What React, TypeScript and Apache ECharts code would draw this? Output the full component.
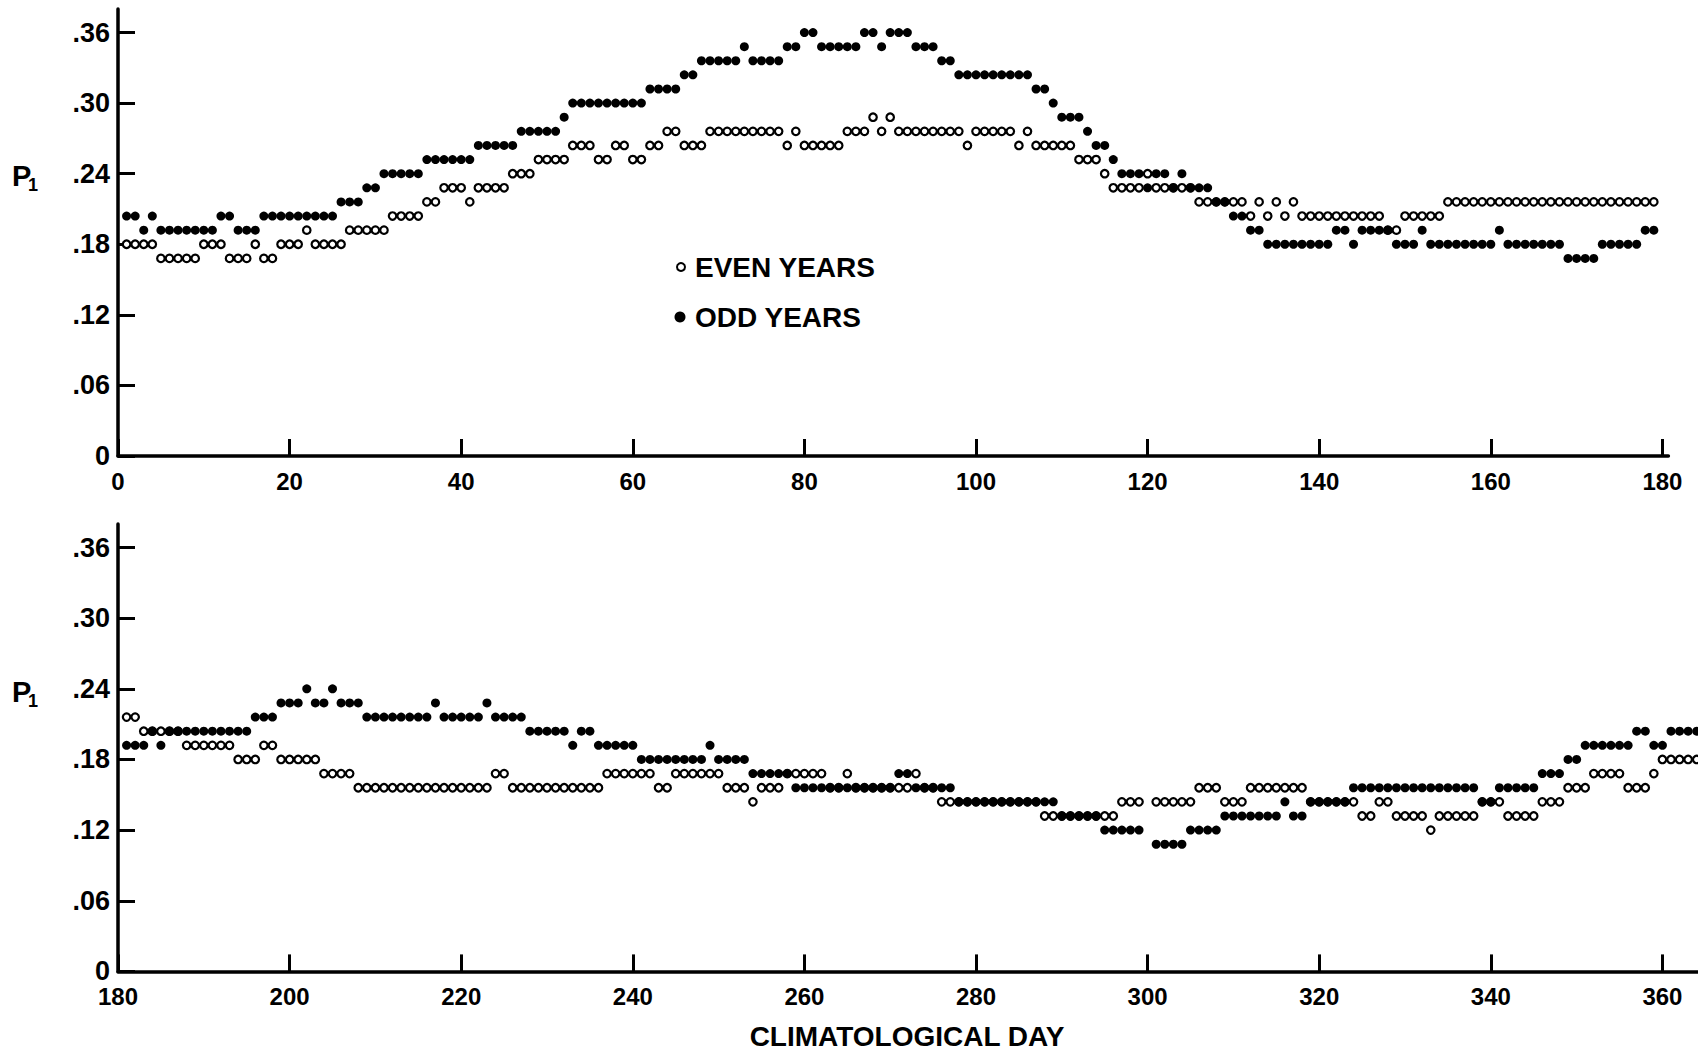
import React, { useEffect, useRef } from "react";
import * as echarts from "echarts";

// ---- Data ----
// Top panel: climatological days 1..179
const TOP_FIRST_DAY = 1;
const topEven = [
  0.18, 0.18, 0.18, 0.18, 0.168, 0.168, 0.168, 0.168, 0.168, 0.18,
  0.18, 0.18, 0.168, 0.168, 0.168, 0.18, 0.168, 0.168, 0.18, 0.18,
  0.18, 0.192, 0.18, 0.18, 0.18, 0.18, 0.192, 0.192, 0.192, 0.192,
  0.192, 0.204, 0.204, 0.204, 0.204, 0.216, 0.216, 0.228, 0.228, 0.228,
  0.216, 0.228, 0.228, 0.228, 0.228, 0.24, 0.24, 0.24, 0.252, 0.252,
  0.252, 0.252, 0.264, 0.264, 0.264, 0.252, 0.252, 0.264, 0.264, 0.252,
  0.252, 0.264, 0.264, 0.276, 0.276, 0.264, 0.264, 0.264, 0.276, 0.276,
  0.276, 0.276, 0.276, 0.276, 0.276, 0.276, 0.276, 0.264, 0.276, 0.264,
  0.264, 0.264, 0.264, 0.264, 0.276, 0.276, 0.276, 0.288, 0.276, 0.288,
  0.276, 0.276, 0.276, 0.276, 0.276, 0.276, 0.276, 0.276, 0.264, 0.276,
  0.276, 0.276, 0.276, 0.276, 0.264, 0.276, 0.264, 0.264, 0.264, 0.264,
  0.264, 0.252, 0.252, 0.252, 0.24, 0.228, 0.228, 0.228, 0.228, 0.24,
  0.228, 0.228, 0.228, 0.228, 0.228, 0.216, 0.216, 0.216, 0.216, 0.216,
  0.216, 0.204, 0.216, 0.204, 0.216, 0.204, 0.216, 0.204, 0.204, 0.204,
  0.204, 0.204, 0.204, 0.204, 0.204, 0.204, 0.204, 0.192, 0.192, 0.204,
  0.204, 0.204, 0.204, 0.204, 0.216, 0.216, 0.216, 0.216, 0.216, 0.216,
  0.216, 0.216, 0.216, 0.216, 0.216, 0.216, 0.216, 0.216, 0.216, 0.216,
  0.216, 0.216, 0.216, 0.216, 0.216, 0.216, 0.216, 0.216, 0.216,
];
const topOdd = [
  0.204, 0.204, 0.192, 0.204, 0.192, 0.192, 0.192, 0.192, 0.192, 0.192,
  0.192, 0.204, 0.204, 0.192, 0.192, 0.192, 0.204, 0.204, 0.204, 0.204,
  0.204, 0.204, 0.204, 0.204, 0.204, 0.216, 0.216, 0.216, 0.228, 0.228,
  0.24, 0.24, 0.24, 0.24, 0.24, 0.252, 0.252, 0.252, 0.252, 0.252,
  0.252, 0.264, 0.264, 0.264, 0.264, 0.264, 0.276, 0.276, 0.276, 0.276,
  0.276, 0.288, 0.3, 0.3, 0.3, 0.3, 0.3, 0.3, 0.3, 0.3,
  0.3, 0.312, 0.312, 0.312, 0.312, 0.324, 0.324, 0.336, 0.336, 0.336,
  0.336, 0.336, 0.348, 0.336, 0.336, 0.336, 0.336, 0.348, 0.348, 0.36,
  0.36, 0.348, 0.348, 0.348, 0.348, 0.348, 0.36, 0.36, 0.348, 0.36,
  0.36, 0.36, 0.348, 0.348, 0.348, 0.336, 0.336, 0.324, 0.324, 0.324,
  0.324, 0.324, 0.324, 0.324, 0.324, 0.324, 0.312, 0.312, 0.3, 0.288,
  0.288, 0.288, 0.276, 0.264, 0.264, 0.252, 0.24, 0.24, 0.24, 0.228,
  0.24, 0.24, 0.228, 0.24, 0.228, 0.228, 0.228, 0.216, 0.216, 0.204,
  0.204, 0.192, 0.192, 0.18, 0.18, 0.18, 0.18, 0.18, 0.18, 0.18,
  0.18, 0.192, 0.192, 0.18, 0.192, 0.192, 0.192, 0.192, 0.18, 0.18,
  0.18, 0.192, 0.18, 0.18, 0.18, 0.18, 0.18, 0.18, 0.18, 0.18,
  0.192, 0.18, 0.18, 0.18, 0.18, 0.18, 0.18, 0.18, 0.168, 0.168,
  0.168, 0.168, 0.18, 0.18, 0.18, 0.18, 0.18, 0.192, 0.192,
];

// Bottom panel: climatological days 181..364 (null = no dot visible)
const BOTTOM_FIRST_DAY = 181;
const bottomEven = [
  0.216, 0.216, 0.204, 0.204, 0.204, 0.204, 0.204, 0.192, 0.192, 0.192,
  0.192, 0.192, 0.192, 0.18, 0.18, 0.18, 0.192, 0.192, 0.18, 0.18,
  0.18, 0.18, 0.18, 0.168, 0.168, 0.168, 0.168, 0.156, 0.156, 0.156,
  0.156, 0.156, 0.156, 0.156, 0.156, 0.156, 0.156, 0.156, 0.156, 0.156,
  0.156, 0.156, 0.156, 0.168, 0.168, 0.156, 0.156, 0.156, 0.156, 0.156,
  0.156, 0.156, 0.156, 0.156, 0.156, 0.156, 0.168, 0.168, 0.168, 0.168,
  0.168, 0.168, 0.156, 0.156, 0.168, 0.168, 0.168, 0.168, 0.168, 0.168,
  0.156, 0.156, 0.156, 0.144, 0.156, 0.156, 0.156, 0.168, 0.168, 0.168,
  0.168, 0.168, 0.156, 0.156, 0.168, 0.156, 0.156, 0.156, 0.156, 0.156,
  0.156, 0.156, 0.168, 0.156, 0.156, 0.144, 0.144, 0.144, 0.144, 0.144,
  0.144, 0.144, 0.144, 0.144, 0.144, 0.144, 0.144, 0.132, 0.132, 0.132,
  0.132, 0.132, 0.132, 0.132, 0.132, 0.132, 0.144, 0.144, 0.144, null,
  0.144, 0.144, 0.144, 0.144, 0.144, 0.156, 0.156, 0.156, 0.144, 0.144,
  0.144, 0.156, 0.156, 0.156, 0.156, 0.156, 0.156, 0.156, 0.144, 0.144,
  0.144, 0.144, 0.144, 0.144, 0.132, 0.132, 0.144, 0.144, 0.132, 0.132,
  0.132, 0.132, 0.12, 0.132, 0.132, 0.132, 0.132, 0.132, 0.144, 0.144,
  0.144, 0.132, 0.132, 0.132, 0.132, 0.144, 0.144, 0.144, 0.156, 0.156,
  0.156, 0.168, 0.168, 0.168, 0.168, 0.156, 0.156, 0.156, 0.168, 0.18,
  0.18, 0.18, 0.18, 0.18,
];
const bottomOdd = [
  0.192, 0.192, 0.192, 0.204, 0.192, 0.204, 0.204, 0.204, 0.204, 0.204,
  0.204, 0.204, 0.204, 0.204, 0.204, 0.216, 0.216, 0.216, 0.228, 0.228,
  0.228, 0.24, 0.228, 0.228, 0.24, 0.228, 0.228, 0.228, 0.216, 0.216,
  0.216, 0.216, 0.216, 0.216, 0.216, 0.216, 0.228, 0.216, 0.216, 0.216,
  0.216, 0.216, 0.228, 0.216, 0.216, 0.216, 0.216, 0.204, 0.204, 0.204,
  0.204, 0.204, 0.192, 0.204, 0.204, 0.192, 0.192, 0.192, 0.192, 0.192,
  0.18, 0.18, 0.18, 0.18, 0.18, 0.18, 0.18, 0.18, 0.192, 0.18,
  0.18, 0.18, 0.18, 0.168, 0.168, 0.168, 0.168, 0.168, 0.156, 0.156,
  0.156, 0.156, 0.156, 0.156, 0.156, 0.156, 0.156, 0.156, 0.156, 0.156,
  0.168, 0.168, 0.156, 0.156, 0.156, 0.156, 0.156, 0.144, 0.144, 0.144,
  0.144, 0.144, 0.144, 0.144, 0.144, 0.144, 0.144, 0.144, 0.144, 0.132,
  0.132, 0.132, 0.132, 0.132, 0.12, 0.12, 0.12, 0.12, 0.12, null,
  0.108, 0.108, 0.108, 0.108, 0.12, 0.12, 0.12, 0.12, 0.132, 0.132,
  0.132, 0.132, 0.132, 0.132, 0.132, 0.144, 0.132, 0.132, 0.144, 0.144,
  0.144, 0.144, 0.144, 0.156, 0.156, 0.156, 0.156, 0.156, 0.156, 0.156,
  0.156, 0.156, 0.156, 0.156, 0.156, 0.156, 0.156, 0.156, 0.144, 0.144,
  0.156, 0.156, 0.156, 0.156, 0.156, 0.168, 0.168, 0.168, 0.18, 0.18,
  0.192, 0.192, 0.192, 0.192, 0.192, 0.192, 0.204, 0.204, 0.192, 0.192,
  0.204, 0.204, 0.204, 0.204,
];

const topXTicks = [0, 20, 40, 60, 80, 100, 120, 140, 160, 180];
const bottomXTicks = [180, 200, 220, 240, 260, 280, 300, 320, 340, 360];
const yTicks = [0, 0.06, 0.12, 0.18, 0.24, 0.3, 0.36];

const FONT = "'Liberation Sans', Arial, 'DejaVu Sans', sans-serif";

function toPoints(values: (number | null)[], firstDay: number) {
  const pts: [number, number][] = [];
  values.forEach((v, i) => {
    if (v !== null) pts.push([firstDay + i, v]);
  });
  return pts;
}

const yFormatter = (v: number) => {
  const n = Math.round(v * 100);
  if (n === 0) return "0";
  return "." + String(n).padStart(2, "0");
};

function xAxisDef(gridIndex: number, min: number, max: number, ticks: number[]) {
  return {
    gridIndex,
    type: "value",
    min,
    max,
    axisLine: { show: true, onZero: false, lineStyle: { color: "#000", width: 3.5 } },
    axisTick: {
      show: true,
      inside: true,
      length: 17,
      customValues: ticks,
      lineStyle: { color: "#000", width: 3 },
    },
    axisLabel: {
      show: true,
      customValues: ticks,
      color: "#000",
      fontFamily: FONT,
      fontWeight: "bold",
      fontSize: 24,
      margin: 13,
    },
    splitLine: { show: false },
  };
}

function yAxisDef(gridIndex: number) {
  return {
    gridIndex,
    type: "value",
    min: 0,
    max: 0.38,
    axisLine: { show: true, onZero: false, lineStyle: { color: "#000", width: 3.5 } },
    axisTick: {
      show: true,
      inside: true,
      length: 17,
      customValues: yTicks,
      lineStyle: { color: "#000", width: 3 },
    },
    axisLabel: {
      show: true,
      customValues: yTicks,
      formatter: yFormatter,
      color: "#000",
      fontFamily: FONT,
      fontWeight: "bold",
      fontSize: 27,
      margin: 8,
    },
    splitLine: { show: false },
  };
}

const openStyle = { color: "#fff", borderColor: "#000", borderWidth: 2.2, opacity: 1 };
const filledStyle = { color: "#000", opacity: 1 };

export default function App() {
  const ref = useRef<HTMLDivElement>(null);

  useEffect(() => {
    if (!ref.current) return;
    const chart = echarts.init(ref.current, null, { renderer: "svg" });
    const textStyle = (text: string, size: number) => ({
      text,
      fill: "#000",
      fontFamily: FONT,
      fontWeight: "bold",
      fontSize: size,
    });
    const option: any = {
      animation: false,
      backgroundColor: "#fff",
      grid: [
        { left: 118, top: 9, width: 1550.4, height: 447, outerBoundsMode: "none", containLabel: false },
        { left: 118, top: 524, width: 1579.6, height: 447.4, outerBoundsMode: "none", containLabel: false },
      ],
      xAxis: [xAxisDef(0, 0, 180.7, topXTicks), xAxisDef(1, 180, 364.1, bottomXTicks)],
      yAxis: [yAxisDef(0), yAxisDef(1)],
      series: [
        {
          name: "EVEN YEARS",
          type: "scatter",
          xAxisIndex: 0,
          yAxisIndex: 0,
          symbol: "circle",
          symbolSize: 7.5,
          itemStyle: openStyle,
          emphasis: { disabled: true },
          data: toPoints(topEven, TOP_FIRST_DAY),
          z: 2,
        },
        {
          name: "ODD YEARS",
          type: "scatter",
          xAxisIndex: 0,
          yAxisIndex: 0,
          symbol: "circle",
          symbolSize: 9,
          itemStyle: filledStyle,
          emphasis: { disabled: true },
          data: toPoints(topOdd, TOP_FIRST_DAY),
          z: 3,
        },
        {
          name: "EVEN YEARS",
          type: "scatter",
          xAxisIndex: 1,
          yAxisIndex: 1,
          symbol: "circle",
          symbolSize: 7.5,
          itemStyle: openStyle,
          emphasis: { disabled: true },
          data: toPoints(bottomEven, BOTTOM_FIRST_DAY),
          z: 2,
        },
        {
          name: "ODD YEARS",
          type: "scatter",
          xAxisIndex: 1,
          yAxisIndex: 1,
          symbol: "circle",
          symbolSize: 9,
          itemStyle: filledStyle,
          emphasis: { disabled: true },
          data: toPoints(bottomOdd, BOTTOM_FIRST_DAY),
          z: 3,
        },
      ],
      graphic: [
        // P1 labels
        { type: "text", x: 12, y: 161, style: { ...textStyle("P", 29), verticalAlign: "top" } },
        { type: "text", x: 28, y: 176, style: { ...textStyle("1", 18), verticalAlign: "top" } },
        { type: "text", x: 12, y: 677, style: { ...textStyle("P", 29), verticalAlign: "top" } },
        { type: "text", x: 28, y: 692, style: { ...textStyle("1", 18), verticalAlign: "top" } },
        // legend
        { type: "circle", shape: { cx: 681, cy: 267, r: 4 }, style: { fill: "#fff", stroke: "#000", lineWidth: 2 } },
        { type: "text", x: 695, y: 267, style: { ...textStyle("EVEN YEARS", 28), verticalAlign: "middle" } },
        { type: "circle", shape: { cx: 680, cy: 317, r: 5.5 }, style: { fill: "#000" } },
        { type: "text", x: 695, y: 317, style: { ...textStyle("ODD YEARS", 28), verticalAlign: "middle" } },
        // x axis title
        {
          type: "text",
          x: 907,
          y: 1036,
          style: { ...textStyle("CLIMATOLOGICAL DAY", 28), align: "center", verticalAlign: "middle" },
        },
      ],
    };
    chart.setOption(option);
    return () => chart.dispose();
  }, []);

  return (
    <div
      ref={ref}
      style={{ position: "absolute", left: 0, top: 0, width: 1698, height: 1054, background: "#fff" }}
    />
  );
}
